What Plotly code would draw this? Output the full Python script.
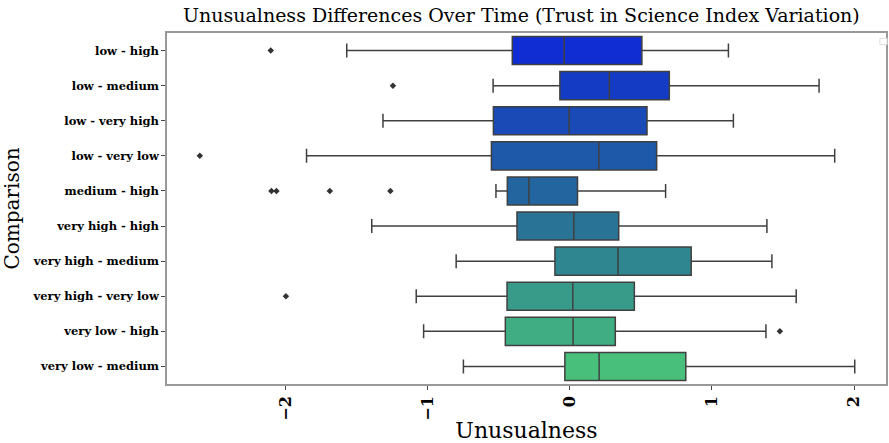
import plotly.graph_objects as go

categories = ["low - high", "low - medium", "low - very high", "low - very low",
              "medium - high", "very high - high", "very high - medium",
              "very high - very low", "very low - high", "very low - medium"]
lower_fence = [-1.57, -0.54, -1.315, -1.853, -0.52, -1.394, -0.80, -1.081, -1.029, -0.749]
q1 = [-0.405, -0.07, -0.538, -0.552, -0.44, -0.372, -0.105, -0.442, -0.454, -0.035]
median = [-0.04, 0.278, -0.005, 0.204, -0.288, 0.028, 0.339, 0.021, 0.023, 0.206]
q3 = [0.507, 0.70, 0.543, 0.611, 0.054, 0.344, 0.854, 0.454, 0.32, 0.816]
upper_fence = [1.116, 1.754, 1.151, 1.864, 0.674, 1.387, 1.422, 1.593, 1.38, 2.005]

outlier_cat = ["low - high", "low - medium", "low - very low", "medium - high",
               "medium - high", "medium - high", "medium - high",
               "very high - very low", "very low - high"]
outlier_val = [-2.105, -1.245, -2.604, -2.10, -2.065, -1.689, -1.263, -1.998, 1.478]

x_ticks = [-2, -1, 0, 1, 2]

anchors = [(0, (15, 45, 210)), (3, (30, 88, 168)), (5, (40, 115, 150)), (9, (72, 192, 124))]


def color_at(i):
    for (a, ca), (b, cb) in zip(anchors[:-1], anchors[1:]):
        if a <= i <= b:
            t = (i - a) / (b - a)
            return "rgb(%d,%d,%d)" % tuple(round(ca[k] + t * (cb[k] - ca[k])) for k in range(3))
    return "rgb(72,192,124)"


fig = go.Figure()
for i, cat in enumerate(categories):
    fig.add_trace(go.Box(
        y=[cat], q1=[q1[i]], median=[median[i]], q3=[q3[i]],
        lowerfence=[lower_fence[i]], upperfence=[upper_fence[i]],
        orientation="h", fillcolor=color_at(i),
        line=dict(color="#404040", width=1.5), whiskerwidth=0.5,
        width=0.8, showlegend=False, hoverinfo="skip",
    ))

fig.add_trace(go.Scatter(
    x=outlier_val, y=outlier_cat, mode="markers",
    marker=dict(symbol="diamond", size=5, color="#333333"),
    showlegend=False, hoverinfo="skip",
))

fig.update_layout(
    width=889, height=443,
    margin=dict(l=167, r=1, t=33, b=59),
    paper_bgcolor="white", plot_bgcolor="white",
    title=dict(text="Unusualness Differences Over Time (Trust in Science Index Variation)",
               x=0.5865, xanchor="center", y=0.965, yanchor="middle",
               font=dict(family="DejaVu Serif", size=19, color="black")),
    font=dict(family="DejaVu Serif", color="black"),
)
fig.update_xaxes(
    range=[-2.835, 2.225], tickvals=x_ticks,
    ticktext=["\u22122", "\u22121", "0", "1", "2"],
    tickangle=-90, tickfont=dict(family="DejaVu Serif", size=16, color="black", weight="bold"),
    ticks="outside", ticklen=4, tickcolor="#444",
    showline=True, mirror=True, linecolor="#999999", linewidth=1.5,
    showgrid=False, zeroline=False,
    title=dict(text="Unusualness", font=dict(family="DejaVu Serif", size=22, color="black"), standoff=6),
)
fig.update_yaxes(
    type="category", categoryorder="array", categoryarray=categories,
    range=[9.5, -0.5],
    tickfont=dict(family="DejaVu Serif", size=11.5, color="black", weight="bold"),
    ticks="outside", ticklen=4, tickcolor="#444",
    showline=True, mirror=True, linecolor="#999999", linewidth=1.5,
    showgrid=False, zeroline=False,
    title=dict(text="Comparison", font=dict(family="DejaVu Serif", size=20, color="black"), standoff=10),
)
fig.add_shape(type="rect", xref="paper", yref="paper", x0=0.9915, x1=1.0015, y0=0.967, y1=0.985,
              line=dict(color="#dddddd", width=1), fillcolor="white")

fig.write_html("out.html")
